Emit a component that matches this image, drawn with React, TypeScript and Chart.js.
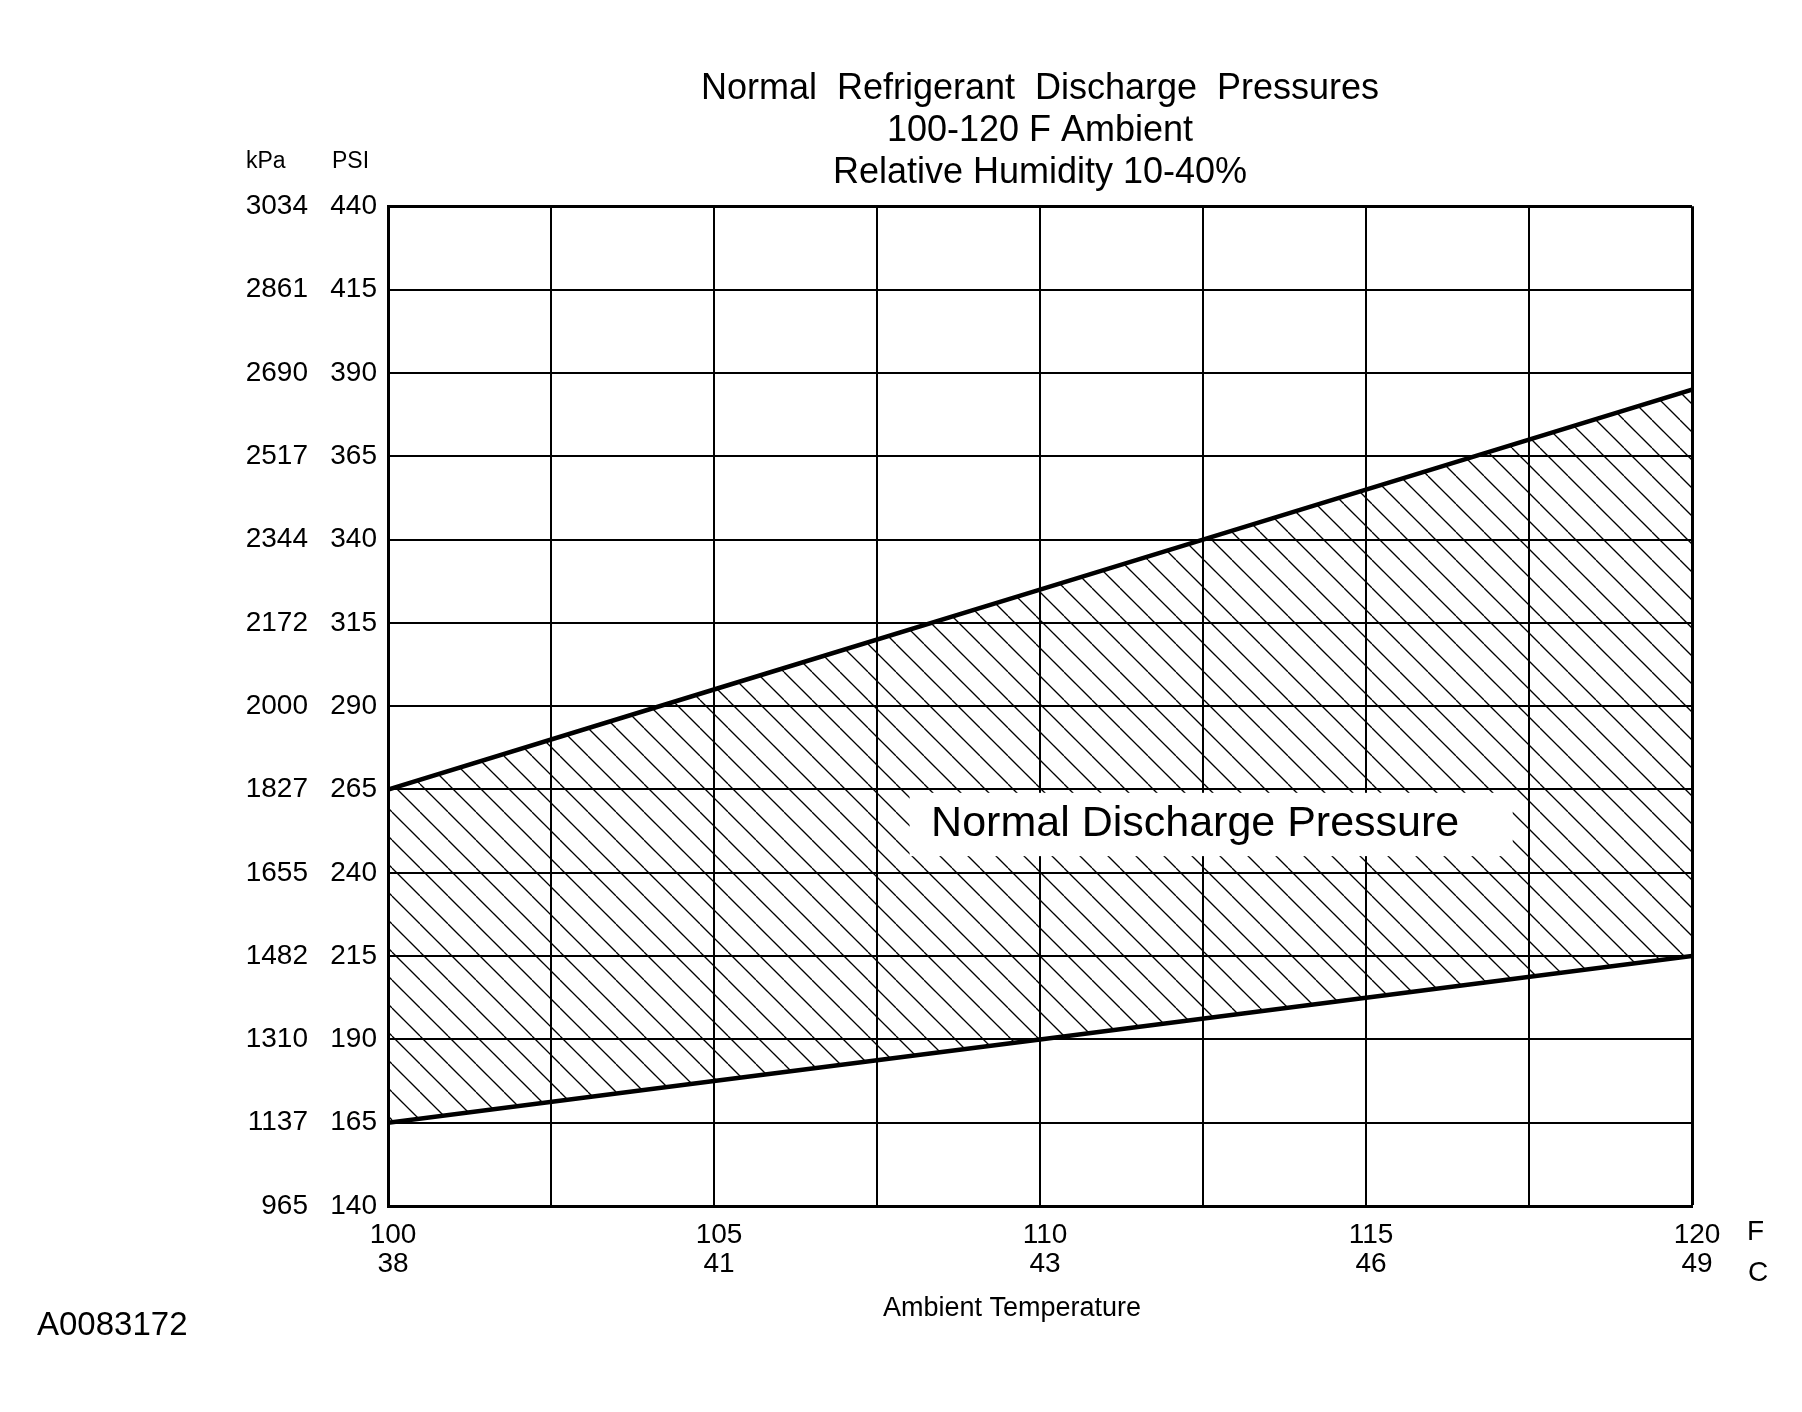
import { useEffect, useRef } from 'react';
import { Chart, registerables, ChartConfiguration, Plugin } from 'chart.js';

Chart.register(...registerables);

// Ambient temperature labels (F and the matching C)
const tempF = [100, 105, 110, 115, 120];
const tempC = [38, 41, 43, 46, 49];

// Pressure ticks, PSI and kPa side by side
const psiTicks = [140, 165, 190, 215, 240, 265, 290, 315, 340, 365, 390, 415, 440];
const kpaTicks = [965, 1137, 1310, 1482, 1655, 1827, 2000, 2172, 2344, 2517, 2690, 2861, 3034];

// Limits of the normal band, read at each tempF
const upperPsi = [265, 295, 325, 355, 385];
const lowerPsi = [165, 177.5, 190, 202.5, 215];

const titleLines = ['Normal  Refrigerant  Discharge  Pressures', '100-120 F Ambient', 'Relative Humidity 10-40%'];
const xTitle = 'Ambient Temperature';
const bandLabel = 'Normal Discharge Pressure';
const figureId = 'A0083172';

// where the white label box sits, in data units (F / PSI)
const labelBox = { left: 108, right: 117.25, top: 264, bottom: 245, textX: 108.33, textY: 254.5 };

const FONT = '"Liberation Sans", Arial, Helvetica, sans-serif';

const makeHatch = (): CanvasPattern | string => {
    const s = 28;
    const tile = document.createElement('canvas');
    tile.width = s;
    tile.height = s;
    const c = tile.getContext('2d');
    if (!c) return 'rgba(0,0,0,0.2)';
    c.strokeStyle = '#000';
    c.lineWidth = 1.3;
    for (const k of [-1, 0, 1]) {
        c.beginPath();
        c.moveTo(k * s, 0);
        c.lineTo(k * s + s, s);
        c.stroke();
    }
    return c.createPattern(tile, 'repeat') || 'rgba(0,0,0,0.2)';
};

const extras: Plugin<'line'> = {
    id: 'extras',
    afterDatasetsDraw(chart) {
        const { ctx, scales } = chart;
        const x = scales.x;
        const y = scales.y;
        const l = x.getPixelForValue(labelBox.left);
        const r = x.getPixelForValue(labelBox.right);
        const t = y.getPixelForValue(labelBox.top);
        const b = y.getPixelForValue(labelBox.bottom);
        ctx.save();
        ctx.fillStyle = '#fff';
        ctx.fillRect(l, t, r - l, b - t);
        ctx.fillStyle = '#000';
        ctx.font = `43px ${FONT}`;
        ctx.textAlign = 'left';
        ctx.textBaseline = 'middle';
        ctx.fillText(bandLabel, x.getPixelForValue(labelBox.textX), y.getPixelForValue(labelBox.textY));
        ctx.restore();
    },
    afterDraw(chart) {
        const { ctx, chartArea } = chart;
        ctx.save();
        ctx.fillStyle = '#000';
        ctx.textAlign = 'left';
        ctx.textBaseline = 'middle';
        // unit headers over the two pressure columns
        ctx.font = `23px ${FONT}`;
        ctx.fillText('kPa', chartArea.left - 142, chartArea.top - 45);
        ctx.fillText('PSI', chartArea.left - 56, chartArea.top - 45);
        // unit marks after the temperature labels
        ctx.font = `28px ${FONT}`;
        ctx.fillText('F', chartArea.right + 55, chartArea.bottom + 26);
        ctx.fillText('C', chartArea.right + 56, chartArea.bottom + 67);
        // axis title, sits a little left of the plot centre
        ctx.font = `27px ${FONT}`;
        ctx.textAlign = 'center';
        ctx.fillText(xTitle, (chartArea.left + chartArea.right) / 2 - 28, chartArea.bottom + 103);
        // figure number
        ctx.font = `33px ${FONT}`;
        ctx.textAlign = 'left';
        ctx.fillText(figureId, 37, chartArea.bottom + 120);
        ctx.restore();
    },
};

const App = () => {
    const canvasRef = useRef<HTMLCanvasElement | null>(null);
    const chartInstance = useRef<Chart<'line'> | null>(null);

    useEffect(() => {
        if (!canvasRef.current) return;
        if (chartInstance.current) chartInstance.current.destroy();

        Chart.defaults.font.family = FONT;
        Chart.defaults.color = '#000';

        const hatch = makeHatch();
        const gridWidth = (edge: number) => (c: any) => (c.tick && c.tick.value === edge ? 3 : 2);

        const config: ChartConfiguration<'line'> = {
            type: 'line',
            data: {
                datasets: [
                    {
                        label: 'Upper limit',
                        data: tempF.map((t, i) => ({ x: t, y: upperPsi[i] })),
                        borderColor: '#000',
                        borderWidth: 4.5,
                        backgroundColor: hatch as any,
                        fill: '+1',
                        pointRadius: 0,
                        tension: 0,
                    },
                    {
                        label: 'Lower limit',
                        data: tempF.map((t, i) => ({ x: t, y: lowerPsi[i] })),
                        borderColor: '#000',
                        borderWidth: 4.5,
                        fill: false,
                        pointRadius: 0,
                        tension: 0,
                    },
                ],
            },
            options: {
                responsive: false,
                animation: false,
                devicePixelRatio: 1,
                events: [],
                layout: { padding: { left: 0, right: 110, top: 0, bottom: 66 } },
                plugins: {
                    legend: { display: false },
                    tooltip: { enabled: false },
                    title: {
                        display: true,
                        text: titleLines,
                        fullSize: false,
                        color: '#000',
                        font: { size: 36, weight: 'normal', lineHeight: 1.17 },
                        padding: { top: 68, bottom: 12 },
                    },
                },
                scales: {
                    x: {
                        type: 'linear',
                        min: 100,
                        max: 120,
                        afterFit: (scale) => {
                            scale.height = 140;
                        },
                        ticks: {
                            stepSize: 2.5,
                            autoSkip: false,
                            maxRotation: 0,
                            padding: 15,
                            labelOffset: 5,
                            color: '#000',
                            font: { size: 28, lineHeight: 1.04 },
                            callback: (value) => {
                                const i = tempF.indexOf(Number(value));
                                return i < 0 ? '' : [String(tempF[i]), String(tempC[i])];
                            },
                        },
                        grid: { color: '#000', lineWidth: gridWidth(120), drawTicks: false },
                        border: { display: true, color: '#000', width: 3 },
                    },
                    kpa: {
                        type: 'linear',
                        position: 'left',
                        weight: 1,
                        min: 140,
                        max: 440,
                        afterFit: (scale) => {
                            scale.width = 318;
                        },
                        ticks: {
                            stepSize: 25,
                            autoSkip: false,
                            padding: 10,
                            color: '#000',
                            font: { size: 28 },
                            callback: (value) => {
                                const i = psiTicks.indexOf(Number(value));
                                return i < 0 ? '' : String(kpaTicks[i]);
                            },
                        },
                        grid: { display: false, drawTicks: false },
                        border: { display: false },
                    },
                    y: {
                        type: 'linear',
                        position: 'left',
                        weight: 0,
                        min: 140,
                        max: 440,
                        afterFit: (scale) => {
                            scale.width = 70;
                        },
                        ticks: {
                            stepSize: 25,
                            autoSkip: false,
                            padding: 11,
                            color: '#000',
                            font: { size: 28 },
                            callback: (value) => {
                                const i = psiTicks.indexOf(Number(value));
                                return i < 0 ? '' : String(psiTicks[i]);
                            },
                        },
                        grid: { color: '#000', lineWidth: gridWidth(440), drawTicks: false },
                        border: { display: true, color: '#000', width: 3 },
                    },
                },
            },
            plugins: [extras],
        };

        chartInstance.current = new Chart(canvasRef.current, config);

        return () => {
            if (chartInstance.current) {
                chartInstance.current.destroy();
                chartInstance.current = null;
            }
        };
    }, []);

    return (
        <div style={{ position: 'absolute', left: 0, top: 0, width: 1802, height: 1412, background: '#fff' }}>
            <canvas ref={canvasRef} width={1802} height={1412} style={{ display: 'block' }} />
        </div>
    );
};

export default App;
